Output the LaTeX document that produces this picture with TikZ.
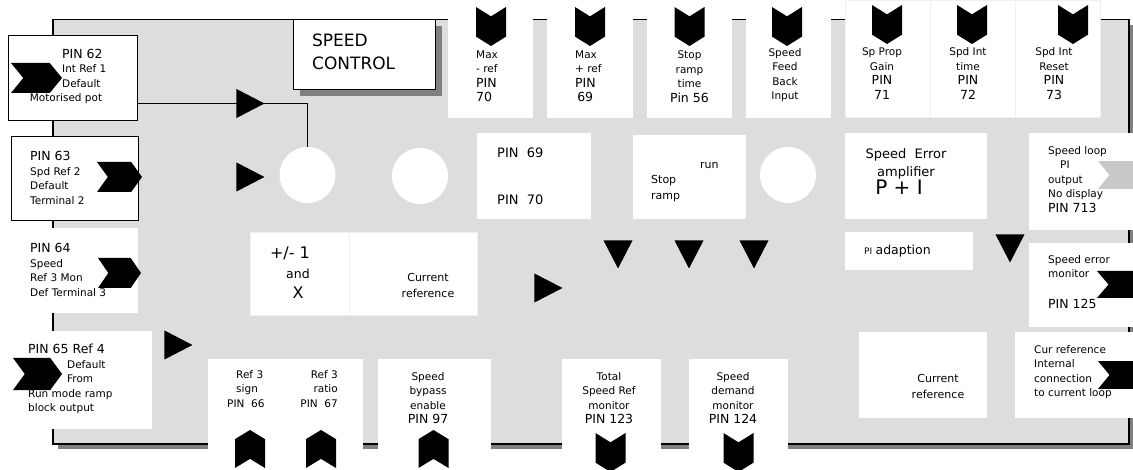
\documentclass[tikz,border=0pt]{standalone}
\usepackage{fontspec}
\setmainfont{DejaVu Sans}
\usetikzlibrary{shapes.geometric, shadows}
\definecolor{panelgray}{RGB}{221,221,221}
\definecolor{tipgray}{RGB}{200,200,200}
\newcommand{\smsz}{\fontsize{10.5}{14.5}\selectfont}
\newcommand{\pinsz}{\fontsize{12.5}{16}\selectfont}
\tikzset{
    panel/.style={rectangle, draw=black, fill=panelgray, line width=1.5pt, anchor=north west, inner sep=0pt,
      drop shadow={shadow xshift=5pt, shadow yshift=-5pt, fill=black!50, opacity=1}},
    titlebox/.style={rectangle, draw=black, fill=white, line width=1.2pt, anchor=north west, inner sep=0pt,
      drop shadow={shadow xshift=6pt, shadow yshift=-6pt, fill=black!50, opacity=1}},
    pinbox/.style={rectangle, draw=black, fill=white, line width=1.2pt, anchor=north west, inner sep=0pt},
    wbox/.style={rectangle, fill=white, anchor=north west, inner sep=0pt},
    splitbox/.style={wbox, draw=black!6, line width=0.4pt},
    sumpt/.style={circle, fill=white, minimum size=56pt, inner sep=0pt},
    txt/.style={inner sep=0pt, font=\smsz},
    chevron/.pic={\fill[pic actions] (-25,-15) -- (13,-15) -- (25,0) -- (13,15) -- (-25,15) -- (-13,0) -- cycle;},
    down/.style={rotate=-90, xscale=0.78},
    up/.style={rotate=90, xscale=0.76},
    tri/.style={isosceles triangle, isosceles triangle stretches, fill=black, inner sep=0pt,
      minimum width=29pt, minimum height=28pt, anchor=apex},
    wire/.style={line width=1.2pt}
}

\begin{document}
\begin{tikzpicture}[x=1pt, y=-1pt]
    \useasboundingbox (0,0) rectangle (1133,470);
    \node[panel, minimum width=1076pt, minimum height=424pt] (panel) at (52,19) {};
    \node[titlebox, minimum width=142pt, minimum height=70pt] (title) at (293,19) {};
    \node[txt, font=\fontsize{17}{23}\selectfont, anchor=west, align=left] (titlet) at (312,51.5) {SPEED\\CONTROL};

    \node[pinbox, minimum width=129pt, minimum height=85pt] (b62) at (8,35) {};
    \node[pinbox, minimum width=127pt, minimum height=84pt] (b63) at (11,136) {};
    \node[wbox, minimum width=128pt, minimum height=85pt] (b64) at (10,228) {};
    \node[wbox, minimum width=144pt, minimum height=98pt] (b65) at (8,331) {};

    \node[wbox, minimum width=85pt, minimum height=118pt] (mref) at (448,0) {};
    \node[wbox, minimum width=86pt, minimum height=118pt] (pref) at (547,0) {};
    \node[wbox, minimum width=85pt, minimum height=118pt] (stopt) at (647,0) {};
    \node[wbox, minimum width=85pt, minimum height=118pt] (sfb) at (746,0) {};
    \node[splitbox, minimum width=85pt, minimum height=117pt] (spg) at (845,0) {};
    \node[splitbox, minimum width=85pt, minimum height=117pt] (sit) at (930,0) {};
    \node[splitbox, minimum width=85pt, minimum height=117pt] (sir) at (1015,0) {};

    \node[wbox, minimum width=114pt, minimum height=86pt] (p6970) at (477,133) {};
    \node[wbox, minimum width=113pt, minimum height=84pt] (stopr) at (633,135) {};
    \node[wbox, minimum width=142pt, minimum height=86pt] (sea) at (845,133) {};
    \node[wbox, minimum width=110pt, minimum height=97pt] (slp) at (1029,133) {};
    \node[wbox, minimum width=128pt, minimum height=38pt] (pia) at (845,232) {};
    \node[wbox, minimum width=110pt, minimum height=84pt] (sem) at (1029,243) {};
    \node[splitbox, minimum width=99pt, minimum height=83pt] (pm1) at (250,232) {};
    \node[splitbox, minimum width=128pt, minimum height=83pt] (cur1) at (349,232) {};

    \node[wbox, minimum width=155pt, minimum height=115pt] (ref3) at (208,359) {};
    \node[wbox, minimum width=113pt, minimum height=115pt] (sbe) at (378,359) {};
    \node[wbox, minimum width=99pt, minimum height=115pt] (tsr) at (562,359) {};
    \node[wbox, minimum width=99pt, minimum height=115pt] (sdm) at (689,359) {};
    \node[wbox, minimum width=128pt, minimum height=86pt] (cur2) at (859,332) {};
    \node[wbox, minimum width=122pt, minimum height=86pt] (crf) at (1015,332) {};

    \node[sumpt] (sum1) at (307.5,175) {};
    \node[sumpt] (sum2) at (420,176) {};
    \node[sumpt] (sum3) at (788,175) {};

    \node[tri] (t62) at (265,103.5) {};
    \node[tri] (t63) at (265,177) {};
    \node[tri] (t65) at (193,345) {};
    \node[tri] (tcur) at (563,288) {};
    \node[tri, shape border rotate=-90] (td1) at (618,269) {};
    \node[tri, shape border rotate=-90] (td2) at (689,269) {};
    \node[tri, shape border rotate=-90] (td3) at (754,269) {};
    \node[tri, shape border rotate=-90] (td4) at (1010,263) {};
    \draw[wire] (b62.east |- t62.apex) -| (sum1.north);

    \pic[xscale=1.02] (c62) at (36.5,78) {chevron};
    \pic[xscale=0.9] (c63) at (119.5,177) {chevron};
    \pic[xscale=0.86] (c64) at (119.5,273) {chevron};
    \pic[xscale=0.98, yscale=1.07] (c65) at (37.5,374) {chevron};
    \pic[fill=tipgray, xscale=0.96, yscale=0.93] (cslp) at (1122,175) {chevron};
    \pic[xscale=0.96, yscale=0.9] (csem) at (1121,284.5) {chevron};
    \pic[xscale=0.96, yscale=0.93] (ccrf) at (1122,375) {chevron};
    \pic[down] (cmref) at (491,26.5) {chevron};
    \pic[down] (cpref) at (590,26.5) {chevron};
    \pic[down] (cstopt) at (689.5,26.5) {chevron};
    \pic[down] (csfb) at (787,26.5) {chevron};
    \pic[down] (cspg) at (887,24.5) {chevron};
    \pic[down] (csit) at (972,24.5) {chevron};
    \pic[down] (csir) at (1073,24.5) {chevron};
    \pic[up] (csign) at (250,449) {chevron};
    \pic[up] (cratio) at (321,449) {chevron};
    \pic[up] (csbe) at (433.5,449) {chevron};
    \pic[down] (ctsr) at (610.5,452.5) {chevron};
    \pic[down] (csdm) at (738.5,452.5) {chevron};

    \node[txt, anchor=west, align=left] (b62t) at (62,68) {{\pinsz PIN 62}\\Int Ref 1\\Default};
    \node[txt] (b62u) at (66,99) {Motorised pot};
    \node[txt, anchor=west, align=left] (b63t) at (30,178) {{\pinsz PIN 63}\\Spd Ref 2\\Default\\Terminal 2};
    \node[txt, anchor=west, align=left] (b64t) at (30,270) {{\pinsz PIN 64}\\Speed\\Ref 3 Mon\\Def Terminal 3};
    \node[txt, anchor=west, align=left] (b65t) at (28,379) {{\pinsz PIN 65 Ref 4}\\\hspace*{39pt}Default\\\hspace*{39pt}From\\Run mode ramp\\block output};

    \node[txt, anchor=west, align=left] (mreft) at (476,76.5) {Max\\- ref\\{\pinsz PIN}\\{\pinsz 70}};
    \node[txt, anchor=west, align=left] (preft) at (575,76.5) {Max\\+ ref\\{\pinsz PIN}\\{\pinsz\,69}};
    \node[txt, align=center] (stoptt) at (689.5,76.5) {Stop\\ramp\\time\\{\pinsz Pin 56}};
    \node[txt, align=center] (sfbt) at (785,75) {Speed\\Feed\\Back\\Input};
    \node[txt, align=center] (spgt) at (882,73.5) {Sp Prop\\Gain\\{\pinsz PIN}\\{\pinsz 71}};
    \node[txt, align=center] (sitt) at (968,73.5) {Spd Int\\time\\{\pinsz PIN}\\{\pinsz 72}};
    \node[txt, align=center] (sirt) at (1054,73.5) {Spd Int\\Reset\\{\pinsz PIN}\\{\pinsz 73}};

    \node[txt, font=\fontsize{13}{15}\selectfont, anchor=west, align=left] (p6970t) at (497,176.5) {PIN\ \ 69\\[32pt]PIN\ \ 70};
    \node[txt, font=\fontsize{11}{16}\selectfont, anchor=west] (runt) at (700,166) {run};
    \node[txt, font=\fontsize{11}{16}\selectfont, anchor=west, align=left] (stoprt) at (651,188.5) {Stop\\ramp};
    \node[txt, font=\fontsize{13}{18}\selectfont, align=center] (seat) at (906,172) {Speed\ \ Error\\amplifier\\{\fontsize{20}{22}\selectfont P + I\hspace*{14pt}}};
    \node[txt, anchor=west, align=left] (slpt) at (1048,179.5) {Speed loop\\\hspace*{12pt}PI\\output\\No display\\{\pinsz PIN 713}};
    \node[txt, anchor=west, align=left] (semt) at (1048,282) {Speed error\\monitor\\[16pt]{\pinsz PIN 125}};
    \node[txt, anchor=west] (piat) at (864,251) {{\fontsize{9}{11}\selectfont PI} {\fontsize{12.5}{15}\selectfont adaption}};
    \node[txt, font=\fontsize{12.5}{20}\selectfont, align=center] (pm1t) at (298,273) {{\fontsize{16}{20}\selectfont +/- 1\hspace*{16pt}}\\and\\{\fontsize{16}{20}\selectfont X}};
    \node[txt, font=\fontsize{11}{16}\selectfont, align=center] (cur1t) at (428,285) {Current\\reference};

    \node[txt, anchor=west, align=left] (signt) at (227,389) {\hspace*{9pt}Ref 3\\\hspace*{9pt}sign\\PIN\ \ 66};
    \node[txt, anchor=east, align=right] (ratiot) at (338,389) {Ref 3\\ratio\\PIN\ \ 67};
    \node[txt, align=center] (sbet) at (428,398) {Speed\\bypass\\enable\\{\pinsz PIN 97}};
    \node[txt, align=center] (tsrt) at (609,398) {Total\\Speed Ref\\monitor\\{\pinsz PIN 123}};
    \node[txt, align=center] (sdmt) at (733,398) {Speed\\demand\\monitor\\{\pinsz PIN 124}};
    \node[txt, font=\fontsize{11}{16}\selectfont, align=center] (cur2t) at (938,386) {Current\\reference};
    \node[txt, anchor=west, align=left] (crft) at (1034,372) {Cur reference\\Internal\\connection\\to current loop};
\end{tikzpicture}
\end{document}
